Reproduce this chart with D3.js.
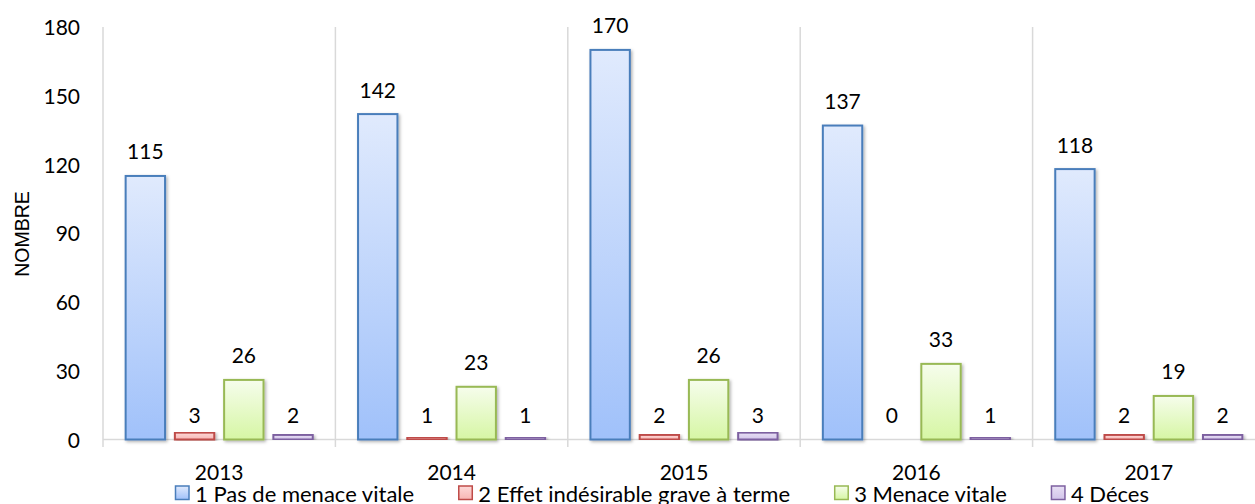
<!DOCTYPE html>
<html>
<head>
<meta charset="utf-8">
<script src="https://cdn.jsdelivr.net/npm/d3@7/dist/d3.min.js"></script>
<style>
  html, body { margin: 0; padding: 0; background: #ffffff; }
  svg { display: block; }
  text { fill: #000; }
</style>
</head>
<body>
<svg id="chart" width="1255" height="504"></svg>
<script>
// Data
const years = ["2013", "2014", "2015", "2016", "2017"];
const seriesNames = [
  "1 Pas de menace vitale",
  "2 Effet indésirable grave à terme",
  "3 Menace vitale",
  "4 Déces"
];
const pasDeMenace = [115, 142, 170, 137, 118];
const effetGrave = [3, 1, 2, 0, 2];
const menaceVitale = [26, 23, 26, 33, 19];
const deces = [2, 1, 3, 1, 2];
const yTicks = [0, 30, 60, 90, 120, 150, 180];
const yTitle = "NOMBRE";

const seriesValues = [pasDeMenace, effetGrave, menaceVitale, deces];

// Styles per series: outline, gradient top, gradient bottom
const palette = [
  { stroke: "#4a7ebb", top: "#e0eafd", bottom: "#a0c1fa" },
  { stroke: "#be4b48", top: "#fdd9d8", bottom: "#f8b5b3" },
  { stroke: "#98b954", top: "#f6fdec", bottom: "#d6f6a4" },
  { stroke: "#7d60a0", top: "#e8e0f4", bottom: "#d2c4ea" }
];

const svg = d3.select("#chart");
const W = 1255, H = 504;
const margin = { left: 103, top: 27 };
const plotRight = 1265;      // last category runs past the canvas edge
const yZero = 439.5;

const defs = svg.append("defs");
palette.forEach((p, i) => {
  const g = defs.append("linearGradient")
    .attr("id", "grad" + i)
    .attr("x1", 0).attr("y1", 0).attr("x2", 0).attr("y2", 1);
  g.append("stop").attr("offset", "0%").attr("stop-color", p.top);
  g.append("stop").attr("offset", "100%").attr("stop-color", p.bottom);
});
const shadow = defs.append("filter").attr("id", "shadow")
  .attr("x", "-20%").attr("y", "-5%").attr("width", "150%").attr("height", "115%");
shadow.append("feDropShadow")
  .attr("dx", 1.5).attr("dy", 1.5).attr("stdDeviation", 1.4)
  .attr("flood-color", "#000").attr("flood-opacity", 0.3);

// Scales
const x0 = d3.scaleBand().domain(years).range([margin.left, plotRight]).paddingInner(0).paddingOuter(0);
const x1 = d3.scaleBand().domain(d3.range(seriesNames.length))
  .range([0, x0.bandwidth()]).paddingInner(0.2).paddingOuter(0.46);
const y = d3.scaleLinear().domain([0, 180]).range([yZero, margin.top]);

const font = "Lato, 'Open Sans', sans-serif";

// Vertical separators between categories
const seps = years.map((d) => x0(d));
svg.append("g").selectAll("line").data(seps).join("line")
  .attr("x1", d => d).attr("x2", d => d)
  .attr("y1", margin.top).attr("y2", yZero + 7.5)
  .attr("stroke", "#d9d9d9").attr("stroke-width", 1.5);

// Horizontal axis line
svg.append("line")
  .attr("x1", margin.left).attr("x2", W)
  .attr("y1", yZero).attr("y2", yZero)
  .attr("stroke", "#d9d9d9").attr("stroke-width", 1.5);

// Y axis tick labels
const yAxis = d3.axisLeft(y).tickValues(yTicks).tickSize(0).tickPadding(0);
const yg = svg.append("g").attr("transform", "translate(80,0)").call(yAxis);
yg.select(".domain").remove();
yg.selectAll("text")
  .attr("font-family", font).attr("font-size", 21).attr("fill", "#000")
  .attr("dy", "0.36em");

// Y axis title
svg.append("text")
  .attr("transform", "translate(22,234) rotate(-90)")
  .attr("text-anchor", "middle").attr("dominant-baseline", "central")
  .attr("font-family", "'Liberation Sans', Arial, sans-serif").attr("font-size", 19.5)
  .text(yTitle);

// Bars
const groups = svg.append("g").selectAll("g").data(years).join("g")
  .attr("transform", d => `translate(${x0(d)},0)`);

const cells = groups.selectAll("g").data((d, yi) => seriesValues.map((vals, si) => ({ si, v: vals[yi] })))
  .join("g");

cells.append("rect")
  .attr("x", d => x1(d.si))
  .attr("width", x1.bandwidth())
  .attr("y", d => y(d.v))
  .attr("height", d => yZero - y(d.v))
  .attr("fill", d => `url(#grad${d.si})`)
  .attr("stroke", d => palette[d.si].stroke)
  .attr("stroke-width", 2)
  .attr("filter", "url(#shadow)")
  .style("display", d => d.v > 0 ? null : "none");

// Value labels; very small values share a common baseline just above the axis
cells.append("text")
  .attr("x", d => x1(d.si) + x1.bandwidth() / 2)
  .attr("y", d => y(d.v < 5 ? 0 : d.v) - 25)
  .attr("text-anchor", "middle").attr("dominant-baseline", "central")
  .attr("font-family", font).attr("font-size", 21)
  .text(d => d.v);

// Category labels
svg.append("g").selectAll("text").data(years).join("text")
  .attr("x", d => x0(d) + x0.bandwidth() / 2)
  .attr("y", 471)
  .attr("text-anchor", "middle").attr("dominant-baseline", "central")
  .attr("font-family", font).attr("font-size", 21)
  .text(d => d);

// Legend: items spread across one row, first swatch at legendStart, last text ending at legendEnd
const legendStart = 175, legendEnd = 1149, legendY = 493;
const swatch = 13.5, swatchGap = 6.5;
const legend = svg.append("g").selectAll("g").data(seriesNames).join("g");
legend.append("rect")
  .attr("x", 0.5).attr("y", -7).attr("width", swatch).attr("height", swatch)
  .attr("fill", (d, i) => `url(#grad${i})`)
  .attr("stroke", (d, i) => palette[i].stroke).attr("stroke-width", 1.5);
const legendText = legend.append("text")
  .attr("x", swatch + swatchGap)
  .attr("dominant-baseline", "central")
  .attr("font-family", font).attr("font-size", 22)
  .text(d => d);
const widths = legendText.nodes().map(n => swatch + swatchGap + n.getComputedTextLength());
const gap = (legendEnd - legendStart - d3.sum(widths)) / (widths.length - 1);
let cursor = legendStart;
const offsets = widths.map(w => { const o = cursor; cursor += w + gap; return o; });
legend.attr("transform", (d, i) => `translate(${offsets[i]},${legendY})`);
</script>
</body>
</html>
